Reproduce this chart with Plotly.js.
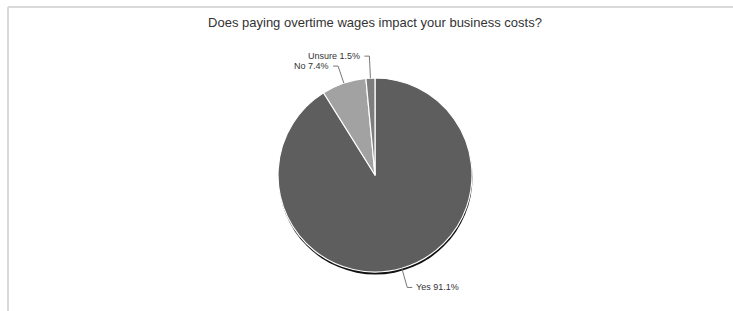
<!DOCTYPE html>
<html>
<head>
<meta charset="utf-8">
<script src="https://cdn.plot.ly/plotly-3.0.1.min.js"></script>
<style>html,body{margin:0;padding:0;background:#fff;}#chart{width:733px;height:311px;}</style>
</head>
<body>
<div id="chart"></div>
<script>
// ---- data ----
const categories = ["Yes", "No", "Unsure"];
const percentages = [91.1, 7.4, 1.5];
const sliceColors = ["#5e5e5e", "#a2a2a2", "#7d7d7d"];
const chartTitle = "Does paying overtime wages impact your business costs?";

// ---- geometry (pixels) ----
const W = 733, H = 311;
const cx = 375, cy = 175, R = 97;
const px = x => x / W;
const py = y => 1 - y / H;

const pieDomain = {x: [px(cx - R), px(cx + R)], y: [py(cy + R), py(cy - R)]};
const shadowDomain = {x: [px(cx - R + 0.5), px(cx + R + 0.5)], y: [py(cy + R + 2.5), py(cy - R + 2.5)]};

const total = percentages.reduce((a, b) => a + b, 0);

const shadow = {
  type: "pie", values: [total], labels: ["shadow"], sort: false,
  marker: {colors: ["#111111"], line: {width: 0}},
  textinfo: "none", hoverinfo: "skip", showlegend: false,
  domain: shadowDomain
};
const pie = {
  type: "pie", values: percentages, labels: categories, sort: false,
  direction: "clockwise", rotation: 0,
  marker: {colors: sliceColors, line: {color: "#ffffff", width: 1.2}},
  textinfo: "none", hoverinfo: "label+percent", showlegend: false,
  domain: pieDomain
};

// leader lines and labels computed from slice angles
const shapes = [
  {type: "line", xref: "paper", yref: "paper", x0: px(8), x1: 1, y0: py(7), y1: py(7), line: {color: "#d9d9d9", width: 2}},
  {type: "line", xref: "paper", yref: "paper", x0: px(8), x1: px(8), y0: py(7), y1: 0, line: {color: "#d9d9d9", width: 2}}
];
const annotations = [];
let cum = 0;
const extLen = [20, 18, 22];
percentages.forEach((v, i) => {
  const mid = (cum + v / 2) / total * 2 * Math.PI;
  cum += v;
  const dx = Math.sin(mid), dy = -Math.cos(mid);
  const p0 = [cx + R * dx, cy + R * dy];
  const p1 = [cx + (R + extLen[i]) * dx, cy + (R + extLen[i]) * dy];
  const right = dx >= 0;
  const p2 = [p1[0] + (right ? 5 : -5), p1[1]];
  shapes.push({type: "path", xref: "paper", yref: "paper",
    path: `M ${px(p0[0])},${py(p0[1])} L ${px(p1[0])},${py(p1[1])} L ${px(p2[0])},${py(p2[1])}`,
    line: {color: "#777777", width: 1}});
  annotations.push({xref: "paper", yref: "paper", x: px(p2[0] + (right ? 2 : -2)), y: py(p2[1]),
    xanchor: right ? "left" : "right", yanchor: "middle", showarrow: false,
    text: categories[i] + " " + v.toFixed(1) + "%",
    font: {family: "Liberation Sans, Arial, sans-serif", size: 9, color: "#333333"}});
});

const layout = {
  width: W, height: H,
  margin: {l: 0, r: 0, t: 0, b: 0},
  paper_bgcolor: "#ffffff",
  title: {text: chartTitle, x: px(cx), xanchor: "center", y: py(22), yanchor: "middle",
    font: {family: "Liberation Sans, Arial, sans-serif", size: 13, color: "#333333"}},
  shapes: shapes,
  annotations: annotations,
  showlegend: false
};
Plotly.newPlot("chart", [shadow, pie], layout, {displayModeBar: false, staticPlot: true});
</script>
</body>
</html>
